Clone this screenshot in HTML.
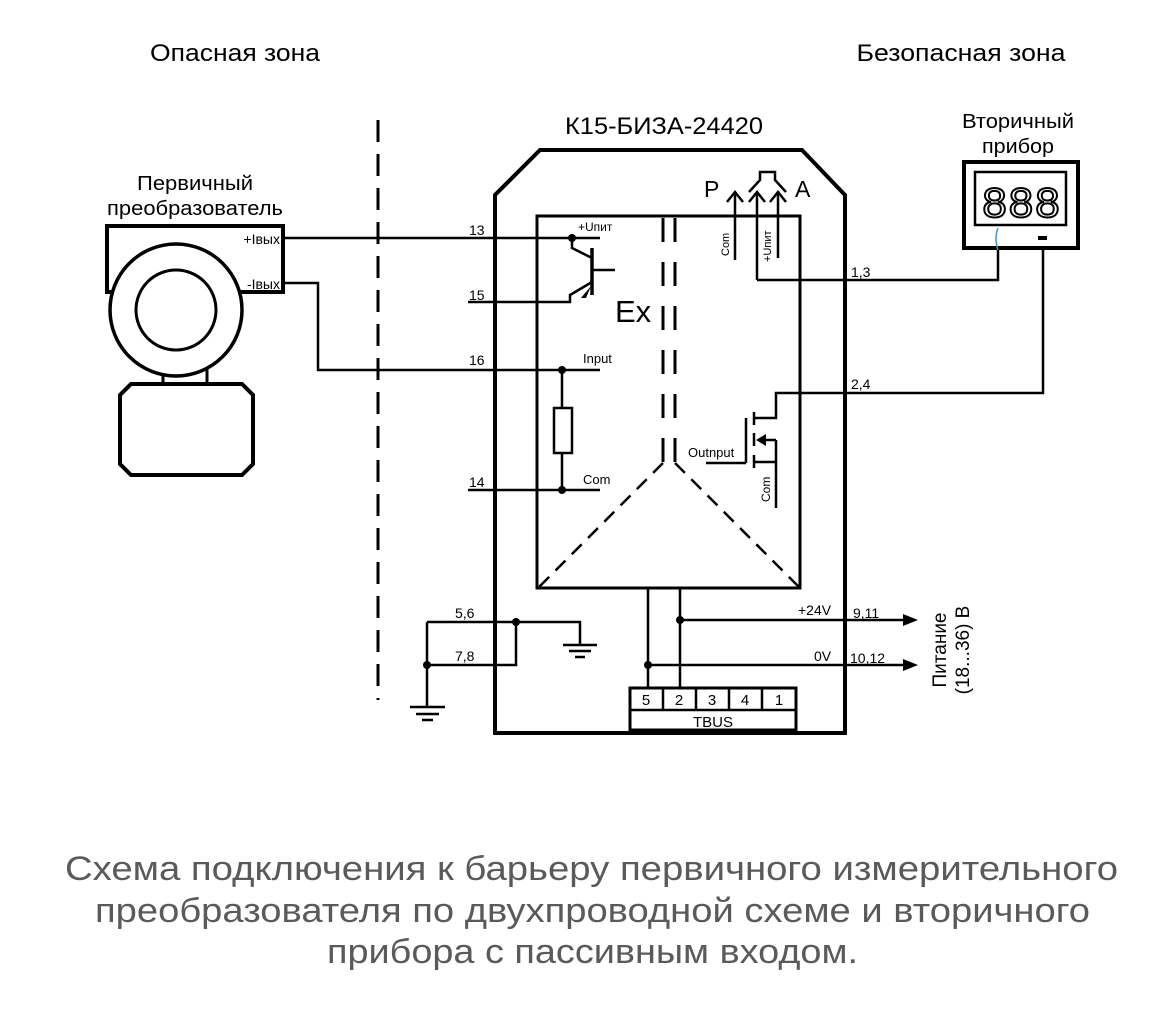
<!DOCTYPE html>
<html><head><meta charset="utf-8"><style>html,body{margin:0;padding:0;background:#fff}svg{display:block}</style></head>
<body>
<svg width="1169" height="1023" viewBox="0 0 1169 1023" xmlns="http://www.w3.org/2000/svg" font-family="Liberation Sans, sans-serif">
<rect width="1169" height="1023" fill="#fff"/>
<g fill="#000">
<text x="235" y="61" font-size="24" text-anchor="middle" textLength="170" lengthAdjust="spacingAndGlyphs">Опасная зона</text>
<text x="961" y="61" font-size="24" text-anchor="middle" textLength="209" lengthAdjust="spacingAndGlyphs">Безопасная зона</text>
<text x="664" y="134" font-size="24" text-anchor="middle" textLength="198" lengthAdjust="spacingAndGlyphs">К15-БИЗА-24420</text>
<text x="195" y="190" font-size="20" text-anchor="middle" textLength="116" lengthAdjust="spacingAndGlyphs">Первичный</text>
<text x="195" y="215" font-size="20" text-anchor="middle" textLength="176" lengthAdjust="spacingAndGlyphs">преобразователь</text>
<text x="1018" y="128" font-size="20" text-anchor="middle" textLength="112" lengthAdjust="spacingAndGlyphs">Вторичный</text>
<text x="1018" y="153" font-size="20" text-anchor="middle" textLength="72" lengthAdjust="spacingAndGlyphs">прибор</text>
</g>
<line x1="378" y1="120" x2="378" y2="700" stroke="#000" stroke-width="3" stroke-dasharray="22,12"/>
<g fill="none" stroke="#000">
<path d="M130,292 L107,292 L107,226 L283,226 L283,292 L240,292" stroke-width="4"/>
<rect x="163" y="360" width="44" height="24" stroke-width="3"/>
<circle cx="176" cy="310" r="66" stroke-width="3.5" fill="#fff"/>
<circle cx="176" cy="310" r="40" stroke-width="3"/>
<path d="M131,384 L242,384 L253,395 L253,464 L242,475 L131,475 L120,464 L120,395 Z" stroke-width="4" fill="#fff"/>
<path d="M495,733 L495,195 L540,150 L802,150 L845,195 L845,733 Z" stroke-width="4"/>
<rect x="537" y="216" width="263" height="372" stroke-width="3"/>
<line x1="663" y1="218" x2="663" y2="462" stroke-width="3" stroke-dasharray="24,20"/>
<line x1="675" y1="218" x2="675" y2="462" stroke-width="3" stroke-dasharray="24,20"/>
<line x1="663" y1="463" x2="539" y2="587" stroke-width="2.5" stroke-dasharray="14,9"/>
<line x1="675" y1="463" x2="799" y2="587" stroke-width="2.5" stroke-dasharray="14,9"/>
<g stroke-width="2.5">
<path d="M283,238 L600,238"/>
<path d="M283,283 L318,283 L318,370 L600,370"/>
<path d="M468,302 L570,302 L570,295 L592,282"/>
<path d="M572,238 L572,248 L592,258"/>
<path d="M592,270 L615,270"/>
<path d="M562,370 L562,408 M562,453 L562,490"/>
<path d="M468,490 L600,490"/>
<path d="M735,260 L735,192 M757,280 L757,192 M778,258 L778,192"/>
<path d="M727,202 L735,192 L743,202 M749,202 L757,192 L765,202 M770,202 L778,192 L786,202"/>
<path d="M749,192 L760,180 L760,172 L775,172 L775,180 L786,192"/>
<path d="M757,280 L998,280 L998,250"/>
<path d="M1043,250 L1043,393 L776,393 L776,418 L754,418"/>
<path d="M706,463 L746,463 M746,418 L746,463"/>
<path d="M754,412 L754,425 M754,433 L754,446 M754,455 L754,468"/>
<path d="M754,462 L776,462 M776,440 L776,508 M776,440 L765,440"/>
<path d="M648,588 L648,690 M680,588 L680,690"/>
<path d="M680,620 L905,620 M648,665 L905,665"/>
<path d="M427,622 L580,622 L580,645 M516,622 L516,665 L427,665 M427,622 L427,707"/>
<path d="M563,645 L597,645 M569,651 L591,651 M575,657 L585,657"/>
<path d="M410,707 L445,707 M416,714 L439,714 M422,720 L433,720"/>
</g>
<rect x="554" y="408" width="18" height="45" stroke-width="2.5" fill="#fff"/>
<line x1="592" y1="248" x2="592" y2="295" stroke-width="3.5"/>
<rect x="630" y="688" width="166" height="42" stroke-width="3" fill="#fff"/>
<path d="M630,710 L796,710 M663,688 L663,710 M696,688 L696,710 M729,688 L729,710 M762,688 L762,710" stroke-width="2.5"/>
<rect x="964" y="162" width="114" height="86" stroke-width="4"/>
<rect x="975" y="172" width="91" height="53" stroke-width="2.5"/>
<path d="M998,228 Q994,238 998,250" stroke="#4a8fc0" stroke-width="1.5"/>
</g>
<g fill="#000" stroke="none">
<polygon points="581,298 591,286 586,298"/>
<polygon points="756,440 766,434 766,446"/>
<polygon points="918,620 903,614 903,626"/>
<polygon points="918,665 903,659 903,671"/>
<rect x="1038" y="236" width="9" height="4"/>
<circle cx="572" cy="238" r="4"/><circle cx="562" cy="370" r="4"/><circle cx="562" cy="490" r="4"/>
<circle cx="680" cy="620" r="4"/><circle cx="648" cy="665" r="4"/>
<circle cx="516" cy="622" r="4"/><circle cx="427" cy="665" r="4"/>
</g>
<text x="1021" y="217" font-size="44" text-anchor="middle" fill="#fff" stroke="#000" stroke-width="2" font-family="Liberation Mono, monospace">888</text>
<g fill="#000" font-size="14">
<text x="280" y="244" text-anchor="end">+Iвых</text>
<text x="280" y="289" text-anchor="end">-Iвых</text>
<text x="469" y="235">13</text><text x="469" y="300">15</text><text x="469" y="365">16</text><text x="469" y="487">14</text>
<text x="851" y="277">1,3</text><text x="851" y="389">2,4</text>
<text x="455" y="618">5,6</text><text x="455" y="661">7,8</text>
<text x="798" y="615">+24V</text><text x="853" y="618">9,11</text>
<text x="814" y="661">0V</text><text x="850" y="663">10,12</text>
<text x="578" y="231" font-size="12">+Uпит</text>
<text x="583" y="363" font-size="13">Input</text>
<text x="583" y="484" font-size="13">Com</text>
<text x="688" y="457" font-size="13">Outnput</text>
<text x="615" y="322" font-size="31">Ex</text>
<text x="704" y="197" font-size="23">P</text>
<text x="795" y="197" font-size="23">A</text>
<text transform="translate(729,256) rotate(-90)" font-size="11">Com</text>
<text transform="translate(771,262) rotate(-90)" font-size="11">+Uпит</text>
<text transform="translate(770,502) rotate(-90)" font-size="12">Com</text>
<text x="646" y="705" font-size="15" text-anchor="middle">5</text><text x="679" y="705" font-size="15" text-anchor="middle">2</text><text x="712" y="705" font-size="15" text-anchor="middle">3</text><text x="745" y="705" font-size="15" text-anchor="middle">4</text><text x="779" y="705" font-size="15" text-anchor="middle">1</text>
<text x="713" y="727" font-size="15" text-anchor="middle">TBUS</text>
<text transform="translate(946,650) rotate(-90)" font-size="19" text-anchor="middle">Питание</text>
<text transform="translate(969,650) rotate(-90)" font-size="19" text-anchor="middle">(18...36) В</text>
</g>
<g fill="#5a5a5a" font-size="34">
<text x="65" y="880" textLength="1053" lengthAdjust="spacingAndGlyphs">Схема подключения к барьеру первичного измерительного</text>
<text x="95" y="922" textLength="995" lengthAdjust="spacingAndGlyphs">преобразователя по двухпроводной схеме и вторичного</text>
<text x="327" y="963" textLength="531" lengthAdjust="spacingAndGlyphs">прибора с пассивным входом.</text>
</g>
</svg>
</body></html>
